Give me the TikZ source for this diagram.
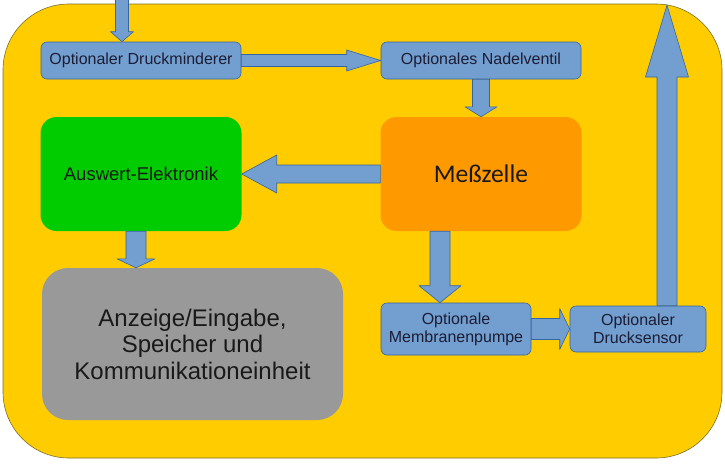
\documentclass[tikz,border=0pt]{standalone}
\usepackage{fontspec}
\setmainfont{Liberation Sans}
\newfontfamily\cellfont{Carlito}
\usetikzlibrary{positioning,calc}

\definecolor{casing}{HTML}{FFCC00}
\definecolor{casingline}{HTML}{77702A}
\definecolor{pipe}{HTML}{729FCF}
\definecolor{pipeline}{HTML}{3465A4}
\definecolor{pcb}{HTML}{00CC00}
\definecolor{cell}{HTML}{FF9900}
\definecolor{panel}{HTML}{999999}
\definecolor{ink}{HTML}{1C1C34}

% block arrow: start, end, half shaft, half head, head length
\newcommand\blockarrow[5]{%
  \draw[flow] ($(#1)!#3!90:(#2)$) -- ($(#2)!#5!(#1)!#3!-90:(#1)$)
    -- ($(#2)!#5!(#1)!#4!-90:(#1)$) -- (#2) -- ($(#2)!#5!(#1)!#4!90:(#1)$)
    -- ($(#2)!#5!(#1)!#3!90:(#1)$) -- ($(#1)!#3!-90:(#2)$) -- cycle;}

\begin{document}
\begin{tikzpicture}[x=1pt,y=-1pt,on grid,
    flow/.style={fill=pipe,draw=pipeline,line width=0.6pt,line join=round},
    part/.style={rectangle,rounded corners=6pt,fill=pipe,draw=pipeline,line width=0.6pt,
      text=ink,font=\fontsize{16}{18}\selectfont,align=center,inner sep=2pt},
    unit/.style={rectangle,rounded corners=16pt,minimum width=201pt,minimum height=114pt,
      text=black!90,inner sep=2pt}]
   \useasboundingbox (0,0) rectangle (725,464);
   \draw[fill=casing,draw=casingline,line width=0.6pt,rounded corners=66pt] (3,4) rectangle (722,458);

   \node[part,minimum width=200pt,minimum height=37pt] (drm) at (141,60.5) {Optionaler Druckminderer};
   \node[part,minimum width=200pt,minimum height=37pt] (nv) [right=340pt of drm] {Optionales Nadelventil};
   \node[unit,fill=cell,font=\cellfont\fontsize{25.5}{28}\selectfont] (mz) [below=113.5pt of nv] {Meßzelle};
   \node[unit,fill=pcb,font=\fontsize{18.5}{21}\selectfont] (ae) [left=340pt of mz] {Auswert-Elektronik};
   \node[unit,fill=panel,rounded corners=26pt,minimum width=301pt,minimum height=152pt,
     align=center,font=\fontsize{24}{26.5}\selectfont] (anz) at (192.5,344)
     {Anzeige/Eingabe,\\Speicher und\\Kommunikationeinheit};
   \node[part,minimum width=150pt,minimum height=52pt] (pump) at (456,329)
     {Optionale\\Membranenpumpe};
   \node[part,minimum width=136pt,minimum height=46pt] (ds) at (638,329)
     {Optionaler\\Drucksensor};

   \coordinate (inlet) at (122,-2);
   \coordinate (outlet) at (667,5);
   \coordinate (ae out) at ([xshift=-5pt]ae.south);
   \coordinate (mz out) at ([xshift=-41pt]mz.south);
   \coordinate (ds out) at ([xshift=29pt]ds.north);

   \blockarrow{inlet}{inlet |- drm.north}{6.5pt}{11.5pt}{10pt}
   \blockarrow{drm.east}{nv.west}{6pt}{10.5pt}{34pt}
   \blockarrow{nv.south}{mz.north}{8.5pt}{16pt}{10pt}
   \blockarrow{mz.west}{ae.east}{9pt}{19pt}{35pt}
   \blockarrow{ae out}{ae out |- anz.north}{10pt}{19pt}{9pt}
   \blockarrow{mz out}{mz out |- pump.north}{10pt}{21pt}{17pt}
   \blockarrow{pump.east}{ds.west}{10.5pt}{20.5pt}{10pt}
   \blockarrow{ds out}{outlet}{10pt}{21.5pt}{72pt}
\end{tikzpicture}
\end{document}
